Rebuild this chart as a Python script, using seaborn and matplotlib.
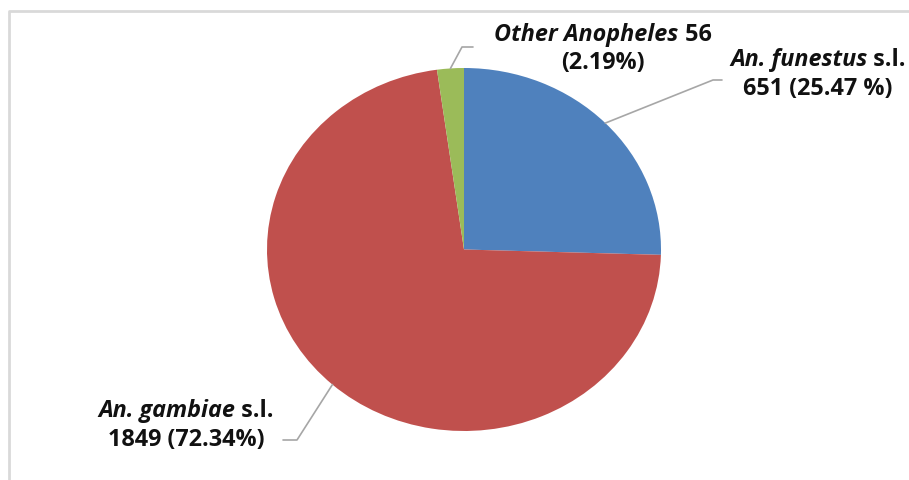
import numpy as np
import matplotlib
matplotlib.use("Agg")
import matplotlib.pyplot as plt
import seaborn as sns

# Anopheles species composition
species = ["An. funestus s.l.", "An. gambiae s.l.", "Other Anopheles"]
counts = [651, 1849, 56]
percent_text = ["25.47 %", "72.34%", "2.19%"]
colors = ["#4F81BD", "#C0504D", "#9BBB59"]

sns.set_style("white")
FONT = "Open Sans"
FSIZE = 16.8
TXT = "#111111"
LEAD = "#a6a6a6"

W, H = 909, 480
fig = plt.figure(figsize=(W / 100, H / 100), dpi=100)

# overlay axes in pixel coordinates for frame, labels and leaders
over = fig.add_axes([0, 0, 1, 1], zorder=3)
over.set_xlim(0, W)
over.set_ylim(H, 0)
over.axis("off")
over.patch.set_alpha(0)

# pie axes (slightly wider than tall)
px0, px1, py0, py1 = 267, 661, 68, 431
pie_ax = fig.add_axes([px0 / W, 1 - py1 / H, (px1 - px0) / W, (py1 - py0) / H], zorder=2)
wedges, _ = pie_ax.pie(counts, colors=colors, startangle=90, counterclock=False,
                       radius=1.0, wedgeprops=dict(linewidth=0))
pie_ax.set_aspect("auto")
pie_ax.set_xlim(-1, 1)
pie_ax.set_ylim(-1, 1)
pie_ax.axis("off")

# chart frame
over.plot([8.5, 8.5, W], [H, 10.5, 10.5], color="#d9d9d9", lw=2, solid_capstyle="butt")

fig.canvas.draw()
renderer = fig.canvas.get_renderer()


def wedge_anchor(w):
    mid = np.deg2rad((w.theta1 + w.theta2) / 2)
    disp = pie_ax.transData.transform((np.cos(mid), np.sin(mid)))
    return over.transData.inverted().transform(disp)


def rich_line(segments, cx, cy):
    """Draw a line made of (text, italic) segments centred on (cx, cy)."""
    items = []
    for s, it in segments:
        t = over.text(0, cy, s, fontsize=FSIZE, fontweight="bold", family=FONT,
                      style="italic" if it else "normal", color=TXT,
                      va="center", ha="left")
        bb = t.get_window_extent(renderer)
        items.append((t, bb.width))
    total = sum(w for _, w in items)
    x = cx - total / 2
    for t, w in items:
        t.set_x(x)
        x += w


def leader(p0, elbow, end):
    over.plot([p0[0], elbow[0], end[0]], [p0[1], elbow[1], end[1]],
              color=LEAD, lw=1.2, zorder=1)


# An. funestus
rich_line([("An. funestus", True), (" s.l.", False)], 818, 60)
rich_line([(f"{counts[0]} ({percent_text[0]})", False)], 818, 89)
leader(wedge_anchor(wedges[0]), (713, 80), (722, 80))

# An. gambiae
rich_line([("An. gambiae", True), (" s.l.", False)], 186, 411)
rich_line([(f"{counts[1]} ({percent_text[1]})", False)], 186, 440)
leader(wedge_anchor(wedges[1]), (297, 440), (283, 440))

# Other Anopheles
rich_line([("Other Anopheles", True), (f" {counts[2]}", False)], 603, 35)
rich_line([(f"({percent_text[2]})", False)], 603, 63)
leader(wedge_anchor(wedges[2]), (462, 47), (473, 47))

fig.savefig("out.png", dpi=100, facecolor="white")
